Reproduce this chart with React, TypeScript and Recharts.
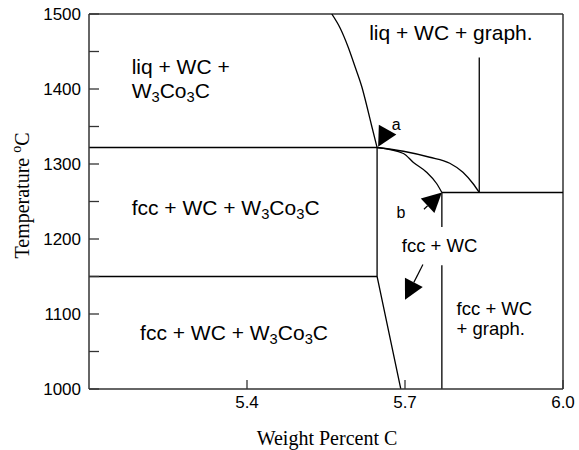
import { ComposedChart, Line, XAxis, YAxis, ReferenceDot, ReferenceLine } from "recharts"

const X_TICKS = [5.4, 5.7, 6.0]
const T_TICKS = [1000, 1050, 1100, 1150, 1200, 1250, 1300, 1350, 1400, 1450, 1500]

// phase boundaries (wt% C, temperature in C)
const liquidus = [
  { x: 5.561, t: 1500 },
  { x: 5.577, t: 1481 },
  { x: 5.592, t: 1456 },
  { x: 5.605, t: 1430 },
  { x: 5.618, t: 1403 },
  { x: 5.628, t: 1376 },
  { x: 5.637, t: 1350 },
  { x: 5.647, t: 1322 },
]
const upperEutectic = [
  { x: 5.1, t: 1322 },
  { x: 5.647, t: 1322 },
]
const lowerEutectic = [
  { x: 5.1, t: 1150 },
  { x: 5.647, t: 1150 },
]
const fccBoundary = [
  { x: 5.647, t: 1322 },
  { x: 5.647, t: 1150 },
  { x: 5.692, t: 1000 },
]
const curveA = [
  { x: 5.647, t: 1322 },
  { x: 5.697, t: 1317 },
  { x: 5.747, t: 1309 },
  { x: 5.785, t: 1301 },
  { x: 5.81, t: 1289 },
  { x: 5.829, t: 1274 },
  { x: 5.841, t: 1262 },
]
const curveB = [
  { x: 5.647, t: 1322 },
  { x: 5.697, t: 1314 },
  { x: 5.716, t: 1302 },
  { x: 5.741, t: 1289 },
  { x: 5.76, t: 1274 },
  { x: 5.77, t: 1262 },
]
const graphVertical = [
  { x: 5.841, t: 1442 },
  { x: 5.841, t: 1262 },
]
const graphEutectic = [
  { x: 5.77, t: 1262 },
  { x: 6.0, t: 1262 },
]
const fccGraphTop = [
  { x: 5.77, t: 1262 },
  { x: 5.77, t: 1216 },
]
const fccGraphBottom = [
  { x: 5.77, t: 1165 },
  { x: 5.77, t: 1000 },
]

// text anchors: left end of baseline. "_3" = subscript 3
const bigLabels = [
  { x: 5.181, t: 1420, text: "liq + WC +" },
  { x: 5.181, t: 1388, text: "W_3Co_3C" },
  { x: 5.632, t: 1465, text: "liq + WC + graph." },
  { x: 5.181, t: 1232, text: "fcc + WC + W_3Co_3C" },
  { x: 5.197, t: 1066, text: "fcc + WC + W_3Co_3C" },
]
const midLabels = [
  { x: 5.694, t: 1183, text: "fcc + WC" },
  { x: 5.798, t: 1099, text: "fcc + WC" },
  { x: 5.798, t: 1072, text: "+ graph." },
]
const pointLabels = [
  { x: 5.675, t: 1346, text: "a" },
  { x: 5.684, t: 1228, text: "b" },
]

// arrow tips, pointing angle (screen degrees), shaft length
const arrows = [
  { x: 5.649, t: 1323, angle: 119, shaft: 0 },
  { x: 5.77, t: 1262, angle: -43, shaft: 5 },
  { x: 5.7, t: 1119, angle: 117, shaft: 20 },
]

const SANS = "Liberation Sans, Arial, sans-serif"
const SERIF = "Liberation Serif, Times New Roman, serif"
const AXIS = "#333"

function richText(text: string, size: number) {
  const parts = text.split(/_(\d)/)
  const out: any[] = []
  let shifted = false
  parts.forEach((p, i) => {
    if (i % 2 === 1) {
      out.push(
        <tspan key={i} fontSize={size * 0.7} dy={4}>
          {p}
        </tspan>
      )
      shifted = true
    } else if (p) {
      out.push(
        <tspan key={i} dy={shifted ? -4 : 0}>
          {p}
        </tspan>
      )
      shifted = false
    }
  })
  return out
}

function textShape(text: string, size: number) {
  return (p: any) => (
    <text x={p.cx} y={p.cy} fontSize={size} fontFamily={SANS} fill="#000">
      {richText(text, size)}
    </text>
  )
}

function arrowShape(angle: number, shaft: number) {
  return (p: any) => {
    const len = 19.5
    const w = 20
    const r = (angle * Math.PI) / 180
    const ux = Math.cos(r)
    const uy = Math.sin(r)
    const bx = p.cx - ux * len
    const by = p.cy - uy * len
    const px = (-uy * w) / 2
    const py = (ux * w) / 2
    return (
      <g>
        {shaft > 0 && (
          <line x1={bx} y1={by} x2={bx - ux * shaft} y2={by - uy * shaft} stroke="#000" strokeWidth={1.2} />
        )}
        <polygon points={`${p.cx},${p.cy} ${bx + px},${by + py} ${bx - px},${by - py}`} fill="#000" />
      </g>
    )
  }
}

const boundaries = [
  { data: liquidus, type: "monotone" },
  { data: upperEutectic, type: "linear" },
  { data: lowerEutectic, type: "linear" },
  { data: fccBoundary, type: "linear" },
  { data: curveA, type: "monotone" },
  { data: curveB, type: "monotone" },
  { data: graphVertical, type: "linear" },
  { data: graphEutectic, type: "linear" },
  { data: fccGraphTop, type: "linear" },
  { data: fccGraphBottom, type: "linear" },
]

export default function App() {
  return (
    <div style={{ position: "absolute", left: 0, top: 0 }}>
      <ComposedChart width={579} height={450} margin={{ top: 14, right: 16, bottom: 0, left: 0 }}>
        <XAxis
          type="number"
          dataKey="x"
          domain={[5.1, 6.0]}
          ticks={X_TICKS}
          interval={0}
          allowDataOverflow
          height={61}
          tickSize={-9}
          tickMargin={16}
          tickFormatter={(v: number) => v.toFixed(1)}
          tick={{ fill: "#000", fontSize: 17, fontFamily: SANS }}
          axisLine={{ stroke: AXIS, strokeWidth: 1.5 }}
          tickLine={{ stroke: AXIS, strokeWidth: 1.3 }}
          label={{
            content: (props: any) => {
              const vb = props.viewBox
              return (
                <text
                  x={vb.x + vb.width / 2 + 1}
                  y={vb.y + 56}
                  textAnchor="middle"
                  fontSize={20}
                  fontFamily={SERIF}
                  fill="#000"
                >
                  Weight Percent C
                </text>
              )
            },
          }}
        />
        <YAxis
          type="number"
          domain={[1000, 1500]}
          ticks={T_TICKS}
          interval={0}
          allowDataOverflow
          width={89}
          tickSize={-10}
          tickMargin={18}
          tickFormatter={(v: number) => (v % 100 === 0 ? String(v) : "")}
          tick={{ fill: "#000", fontSize: 17, fontFamily: SANS }}
          axisLine={{ stroke: AXIS, strokeWidth: 1.5 }}
          tickLine={{ stroke: AXIS, strokeWidth: 1.3 }}
          label={{
            content: (props: any) => {
              const vb = props.viewBox
              const cx = vb.x + 29
              const cy = vb.y + vb.height / 2 - 6
              return (
                <text
                  x={cx}
                  y={cy}
                  transform={`rotate(-90 ${cx} ${cy})`}
                  textAnchor="middle"
                  fontSize={20}
                  fontFamily={SERIF}
                  fill="#000"
                >
                  Temperature <tspan dy={-8} fontSize={14}>o</tspan>
                  <tspan dy={8}>C</tspan>
                </text>
              )
            },
          }}
        />
        <ReferenceLine y={1500} stroke={AXIS} strokeWidth={1.5} />
        <ReferenceLine x={6.0} stroke={AXIS} strokeWidth={1.5} />

        {boundaries.map((b, i) => (
          <Line
            key={`b-${i}`}
            data={b.data}
            dataKey="t"
            type={b.type as any}
            stroke="#000"
            strokeWidth={1.3}
            dot={false}
            activeDot={false}
            isAnimationActive={false}
          />
        ))}

        {bigLabels.map((l, i) => (
          <ReferenceDot key={`bl-${i}`} x={l.x} y={l.t} r={0} shape={textShape(l.text, 21)} />
        ))}
        {midLabels.map((l, i) => (
          <ReferenceDot key={`ml-${i}`} x={l.x} y={l.t} r={0} shape={textShape(l.text, 18.5)} />
        ))}
        {pointLabels.map((l, i) => (
          <ReferenceDot key={`pl-${i}`} x={l.x} y={l.t} r={0} shape={textShape(l.text, 16)} />
        ))}
        {arrows.map((a, i) => (
          <ReferenceDot key={`ar-${i}`} x={a.x} y={a.t} r={0} shape={arrowShape(a.angle, a.shaft)} />
        ))}
      </ComposedChart>
    </div>
  )
}
